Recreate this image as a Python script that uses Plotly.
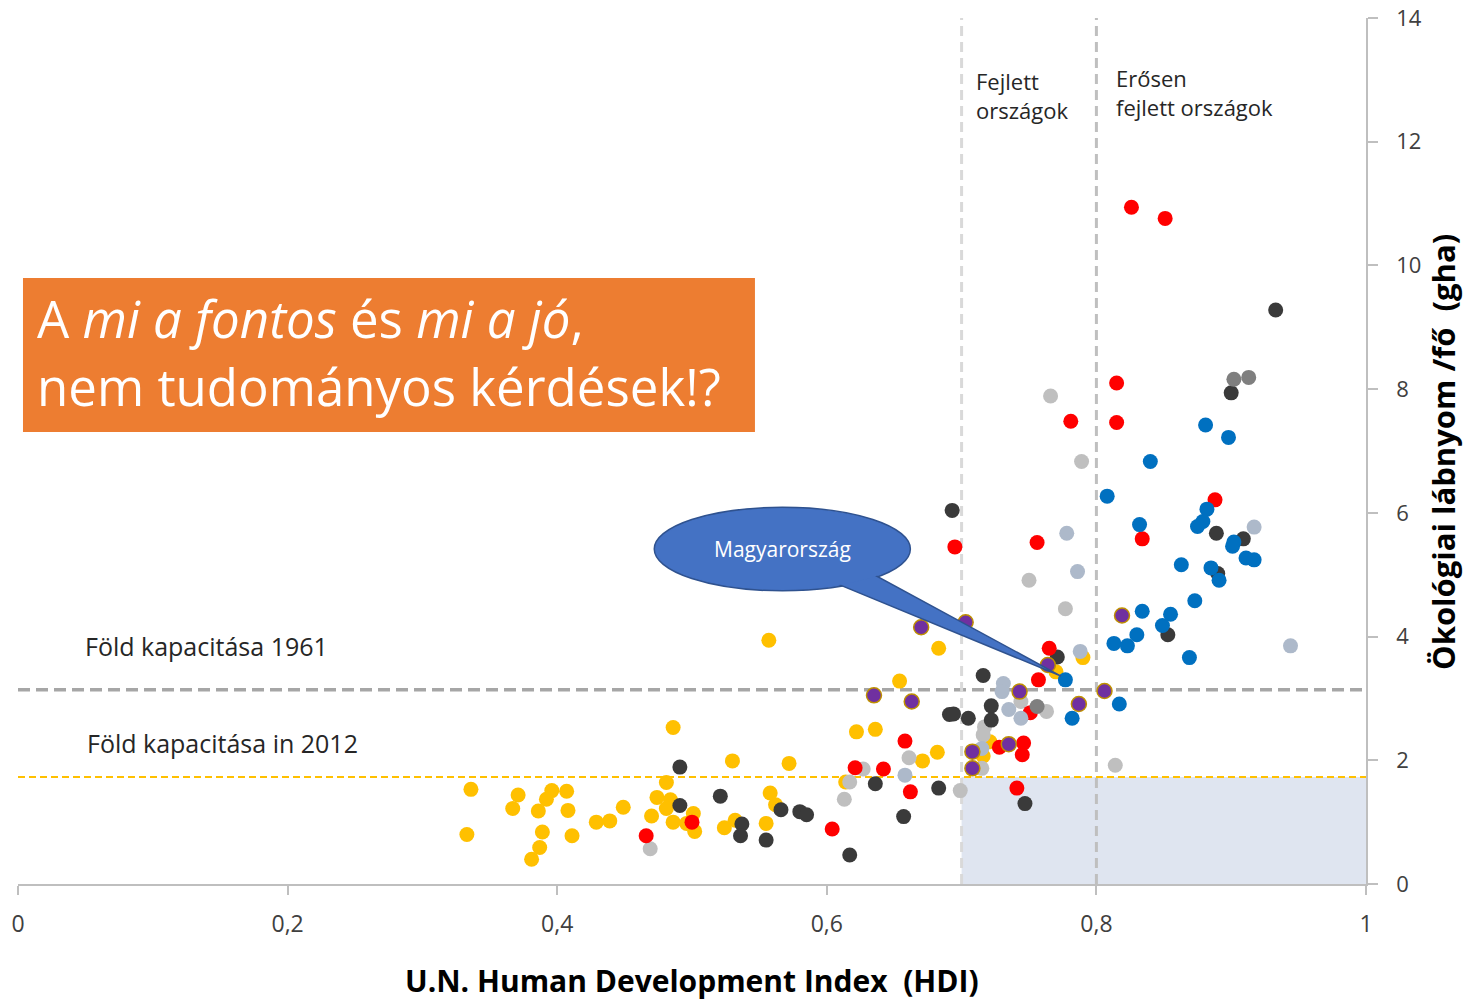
import plotly.graph_objects as go

# ---------------- data (HDI, ecological footprint gha/person) ----------------
yellow_hdi = [0.486, 0.336, 0.333, 0.371, 0.367, 0.386, 0.392, 0.396, 0.407, 0.408, 0.389, 0.387, 0.381,
              0.411, 0.429, 0.439, 0.449, 0.481, 0.474, 0.484, 0.481, 0.470, 0.486, 0.501, 0.502, 0.496,
              0.683, 0.557, 0.654, 0.622, 0.636, 0.671, 0.682, 0.530, 0.572, 0.614, 0.558, 0.562, 0.555,
              0.532, 0.524, 0.790, 0.770, 0.721, 0.716]
yellow_ef = [2.53, 1.53, 0.80, 1.44, 1.22, 1.18, 1.37, 1.51, 1.50, 1.19, 0.84, 0.59, 0.40,
             0.78, 1.00, 1.02, 1.24, 1.64, 1.40, 1.36, 1.22, 1.10, 1.00, 1.14, 0.85, 0.98,
             3.81, 3.94, 3.28, 2.46, 2.50, 1.99, 2.13, 1.99, 1.95, 1.65, 1.47, 1.28, 0.98,
             1.03, 0.91, 3.66, 3.43, 2.30, 2.07]

dark_hdi = [0.491, 0.491, 0.691, 0.683, 0.657, 0.636, 0.521, 0.566, 0.580, 0.585, 0.555, 0.537, 0.536,
            0.617, 0.900, 0.693, 0.889, 0.909, 0.890, 0.853, 0.771, 0.716, 0.722, 0.694, 0.705, 0.722,
            0.747, 0.933, 0.581]
dark_ef = [1.89, 1.27, 2.74, 1.55, 1.09, 1.62, 1.42, 1.20, 1.17, 1.12, 0.71, 0.97, 0.78,
           0.47, 7.94, 6.04, 5.67, 5.58, 5.02, 4.03, 3.67, 3.37, 2.88, 2.75, 2.68, 2.65,
           1.30, 9.28, 4.86]

red_hdi = [0.500, 0.466, 0.658, 0.662, 0.621, 0.642, 0.604, 0.815, 0.781, 0.815, 0.888, 0.834, 0.695,
           0.756, 0.765, 0.757, 0.751, 0.728, 0.746, 0.745, 0.741, 0.826, 0.851]
red_ef = [1.00, 0.78, 2.31, 1.49, 1.88, 1.86, 0.89, 8.10, 7.48, 7.46, 6.21, 5.58, 5.45,
          5.52, 3.81, 3.30, 2.77, 2.21, 2.28, 2.09, 1.55, 10.94, 10.76]

lgray_hdi = [0.469, 0.661, 0.627, 0.617, 0.613, 0.766, 0.789, 0.750, 0.777, 0.744, 0.763, 0.717, 0.716,
             0.715, 0.699, 0.814]
lgray_ef = [0.57, 2.04, 1.86, 1.65, 1.37, 7.89, 6.83, 4.91, 4.45, 2.95, 2.79, 2.54, 2.41,
            1.87, 1.51, 1.92]

bgray_hdi = [0.658, 0.917, 0.778, 0.786, 0.944, 0.788, 0.731, 0.730, 0.744, 0.735, 0.715]
bgray_ef = [1.76, 5.77, 5.67, 5.05, 3.85, 3.76, 3.24, 3.11, 2.68, 2.82, 2.19]

mgray_hdi = [0.902, 0.913, 0.756]
mgray_ef = [8.16, 8.19, 2.87]

blue_hdi = [0.881, 0.898, 0.840, 0.808, 0.882, 0.879, 0.875, 0.832, 0.902, 0.901, 0.911, 0.917, 0.863,
            0.885, 0.891, 0.873, 0.834, 0.855, 0.849, 0.830, 0.813, 0.823, 0.869, 0.777, 0.817, 0.782]
blue_ef = [7.42, 7.22, 6.83, 6.27, 6.06, 5.86, 5.78, 5.81, 5.53, 5.46, 5.27, 5.24, 5.16,
           5.11, 4.91, 4.58, 4.41, 4.36, 4.18, 4.03, 3.89, 3.85, 3.66, 3.30, 2.91, 2.68]

purple_hdi = [0.670, 0.635, 0.663, 0.819, 0.703, 0.764, 0.743, 0.708, 0.735, 0.708, 0.806, 0.787]
purple_ef = [4.15, 3.05, 2.95, 4.34, 4.23, 3.54, 3.11, 2.14, 2.26, 1.87, 3.12, 2.91]

x_tickvals = [0, 0.2, 0.4, 0.6, 0.8, 1]
x_ticktext = ["0", "0,2", "0,4", "0,6", "0,8", "1"]
y_tickvals = [0, 2, 4, 6, 8, 10, 12, 14]

capacity_1961 = 3.14
capacity_2012 = 1.73
hdi_developed = 0.7
hdi_very_developed = 0.8

FONT = "Open Sans, Lato, sans-serif"
TXT = "#262626"

fig = go.Figure()

groups = [
    (yellow_hdi, yellow_ef, "#FFC000", None),
    (lgray_hdi, lgray_ef, "#BFBFBF", None),
    (dark_hdi, dark_ef, "#3A3A3A", None),
    (red_hdi, red_ef, "#FF0000", None),
    (bgray_hdi, bgray_ef, "#ADB9CA", None),
    (mgray_hdi, mgray_ef, "#7F7F7F", None),
    (blue_hdi, blue_ef, "#0070C0", None),
    (purple_hdi, purple_ef, "#7030A0", "#BF9000"),
]
for xs, ys, col, outline in groups:
    fig.add_trace(go.Scatter(
        x=xs, y=ys, mode="markers",
        marker=dict(size=15, color=col,
                    line=dict(width=1.5 if outline else 0, color=outline or col)),
        showlegend=False, hoverinfo="x+y",
    ))

shapes = [
    # shaded region
    dict(type="rect", xref="x", yref="y", x0=hdi_developed, x1=1, y0=0, y1=capacity_2012,
         fillcolor="#DFE5F0", line=dict(width=0), layer="below"),
    # capacity lines
    dict(type="line", xref="x", yref="y", x0=0, x1=1, y0=capacity_1961, y1=capacity_1961,
         line=dict(color="#A6A6A6", width=3.5, dash="12px,6px"), layer="below"),
    dict(type="line", xref="x", yref="y", x0=0, x1=1, y0=capacity_2012, y1=capacity_2012,
         line=dict(color="#FFC000", width=2, dash="7px,4px"), layer="below"),
    # HDI thresholds
    dict(type="line", xref="x", yref="y", x0=hdi_developed, x1=hdi_developed, y0=0, y1=14,
         line=dict(color="#D9D9D9", width=3, dash="10px,6px"), layer="below"),
    dict(type="line", xref="x", yref="y", x0=hdi_very_developed, x1=hdi_very_developed, y0=0, y1=14,
         line=dict(color="#BFBFBF", width=3, dash="10px,6px"), layer="below"),
    # orange box
    dict(type="rect", xref="x", yref="y", x0=0.0037, x1=0.5467, y0=7.307, y1=9.796,
         fillcolor="#ED7D31", line=dict(width=0), layer="above"),
    # callout ellipse (outline)
    dict(type="circle", xref="x", yref="y", x0=0.472, x1=0.662, y0=4.74, y1=6.09,
         fillcolor="#4472C4", line=dict(color="#2F528F", width=1.5), layer="above"),
    # callout pointer
    dict(type="path", xref="x", yref="y",
         path="M 0.6024,4.90 L 0.7737,3.362 L 0.6335,5.02 Z",
         fillcolor="#4472C4", line=dict(color="#2F528F", width=1.5), layer="above"),
    # inner ellipse to merge pointer with bubble
    dict(type="circle", xref="x", yref="y", x0=0.4735, x1=0.6605, y0=4.765, y1=6.065,
         fillcolor="#4472C4", line=dict(width=0), layer="above"),
]

annotations = [
    dict(x=0.0125, y=(884 - 318) / 61.86, xref="x", yref="y", xanchor="left", yanchor="middle",
         text="A <i>mi a fontos</i> és <i>mi a jó</i>,", showarrow=False,
         font=dict(family=FONT, size=51, color="white")),
    dict(x=0.0125, y=(884 - 386) / 61.86, xref="x", yref="y", xanchor="left", yanchor="middle",
         text="nem tudományos kérdések!?", showarrow=False,
         font=dict(family=FONT, size=51, color="white")),
    dict(x=0.567, y=5.415, xref="x", yref="y", xanchor="center", yanchor="middle",
         text="Magyarország", showarrow=False, font=dict(family=FONT, size=21, color="white")),
    dict(x=0.048, y=3.84, xref="x", yref="y", xanchor="left", yanchor="middle",
         text="Föld kapacitása 1961", showarrow=False, font=dict(family=FONT, size=25, color=TXT)),
    dict(x=0.050, y=2.28, xref="x", yref="y", xanchor="left", yanchor="middle",
         text="Föld kapacitása in 2012", showarrow=False, font=dict(family=FONT, size=25, color=TXT)),
    dict(x=0.709, y=12.74, xref="x", yref="y", xanchor="left", yanchor="middle", align="left",
         text="Fejlett<br>országok", showarrow=False, font=dict(family=FONT, size=22, color=TXT)),
    dict(x=0.813, y=12.79, xref="x", yref="y", xanchor="left", yanchor="middle", align="left",
         text="Erősen<br>fejlett országok", showarrow=False, font=dict(family=FONT, size=22, color=TXT)),
    dict(x=0.5, y=(884 - 980) / 866, xref="paper", yref="paper", xanchor="center", yanchor="middle",
         text="<b>U.N. Human Development Index  (HDI)</b>", showarrow=False,
         font=dict(family=FONT, size=30, color="#000000")),
    dict(x=(1443 - 18) / 1348, y=(884 - 452) / 866, xref="paper", yref="paper",
         xanchor="center", yanchor="middle", textangle=-90,
         text="<b>Ökológiai lábnyom /fő  (gha)</b>", showarrow=False,
         font=dict(family=FONT, size=31, color="#000000")),
]

fig.update_layout(
    width=1470, height=1003,
    margin=dict(l=18, r=104, t=18, b=119, autoexpand=False),
    paper_bgcolor="white", plot_bgcolor="white",
    showlegend=False,
    shapes=shapes, annotations=annotations,
    xaxis=dict(range=[0, 1], tickvals=x_tickvals, ticktext=x_ticktext, showgrid=False, zeroline=False,
               showline=True, linecolor="#BFBFBF", linewidth=1.5, ticks="outside", ticklen=9,
               tickcolor="#BFBFBF", tickwidth=1.5, ticklabelstandoff=10, automargin=False,
               tickfont=dict(family=FONT, size=23, color="#404040")),
    yaxis=dict(range=[0, 14], tickvals=y_tickvals, side="right", showgrid=False, zeroline=False,
               showline=True, linecolor="#BFBFBF", linewidth=1.5, ticks="outside", ticklen=10,
               tickcolor="#BFBFBF", tickwidth=1.5, ticklabelstandoff=14, automargin=False,
               tickfont=dict(family=FONT, size=22, color="#404040")),
)

fig.write_html("out.html", config={"displayModeBar": False},
               post_script="document.body.style.margin='0';")
